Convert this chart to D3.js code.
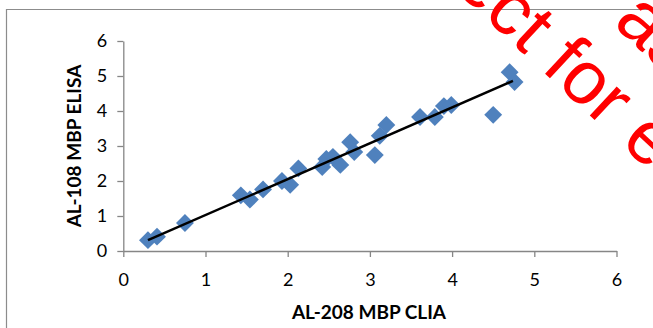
<!DOCTYPE html>
<html><head><meta charset="utf-8">
<script src="https://cdn.jsdelivr.net/npm/d3@7"></script>
<style>html,body{margin:0;padding:0;background:#fff;}svg{display:block;}</style>
</head><body>
<svg id="c" width="653" height="328"></svg>
<script>
const clia  = [0.30,0.41,0.75,1.43,1.54,1.70,1.93,2.03,2.13,2.42,2.47,2.55,2.64,2.76,2.81,3.06,3.12,3.20,3.61,3.79,3.90,3.99,4.50,4.70,4.76];
const elisa = [0.31,0.41,0.80,1.59,1.47,1.76,2.00,1.89,2.36,2.40,2.63,2.69,2.46,3.11,2.83,2.74,3.29,3.60,3.83,3.83,4.14,4.17,3.89,5.11,4.83];
const trendX = [0.30, 4.74];
const trendY = [0.31, 4.86];
const xTicks = [0,1,2,3,4,5,6];
const yTicks = [0,1,2,3,4,5,6];
const xTitle = "AL-208 MBP CLIA";
const yTitle = "AL-108 MBP ELISA";
const watermark = ["as submitted", "Subject for editing"];

const svg = d3.select("#c");
const font = "Lato, 'Open Sans', sans-serif";
const axisColor = "#868686";

// chart border
svg.append("path").attr("d","M6.5,328 L6.5,9.5 L653,9.5").attr("fill","none").attr("stroke","#8c8c8c").attr("stroke-width",1.2);

const x = d3.scaleLinear().domain([0,6]).range([123.3,616.5]);
const y = d3.scaleLinear().domain([0,6]).range([251,41]);

const gx = svg.append("g").attr("transform","translate(0,251)")
  .call(d3.axisBottom(x).tickValues(xTicks).tickFormat(d3.format("d")).tickSizeInner(6).tickSizeOuter(0).tickPadding(16));
const gy = svg.append("g").attr("transform","translate(123.3,0)")
  .call(d3.axisLeft(y).tickValues(yTicks).tickFormat(d3.format("d")).tickSizeInner(6).tickSizeOuter(0).tickPadding(10));
[gx,gy].forEach(g=>{
  g.select(".domain").attr("stroke",axisColor).attr("stroke-width",1.3);
  g.selectAll(".tick line").attr("stroke",axisColor).attr("stroke-width",1.3);
  g.selectAll(".tick text").attr("fill","#000").attr("font-family",font).attr("font-size",18);
});

// points
const data = clia.map((v,i)=>({x:v,y:elisa[i]}));
svg.append("g").selectAll("path").data(data).join("path")
  .attr("transform",d=>`translate(${x(d.x)},${y(d.y)}) rotate(45)`)
  .attr("d", d3.symbol().type(d3.symbolSquare).size(160)())
  .attr("fill","#4F81BD");

// trend line
svg.append("line")
  .attr("x1",x(trendX[0])).attr("y1",y(trendY[0]))
  .attr("x2",x(trendX[1])).attr("y2",y(trendY[1]))
  .attr("stroke","#000").attr("stroke-width",2.5);

// titles
svg.append("text").attr("x",369).attr("y",319).attr("text-anchor","middle")
  .attr("font-family",font).attr("font-weight","bold").attr("font-size",19).text(xTitle);
svg.append("text").attr("transform","translate(80.5,146) rotate(-90)").attr("text-anchor","middle")
  .attr("font-family",font).attr("font-weight","bold").attr("font-size",19).text(yTitle);

// watermark
const wm = svg.append("g").attr("fill","#ff0000").attr("font-family","'Liberation Sans', Arial, sans-serif").attr("font-size",75);
wm.append("text").attr("transform","translate(612,24) rotate(43)").text(watermark[0]);
wm.append("text").attr("transform","translate(342,-115.5) rotate(43)").text(watermark[1]);
</script>
</body></html>
